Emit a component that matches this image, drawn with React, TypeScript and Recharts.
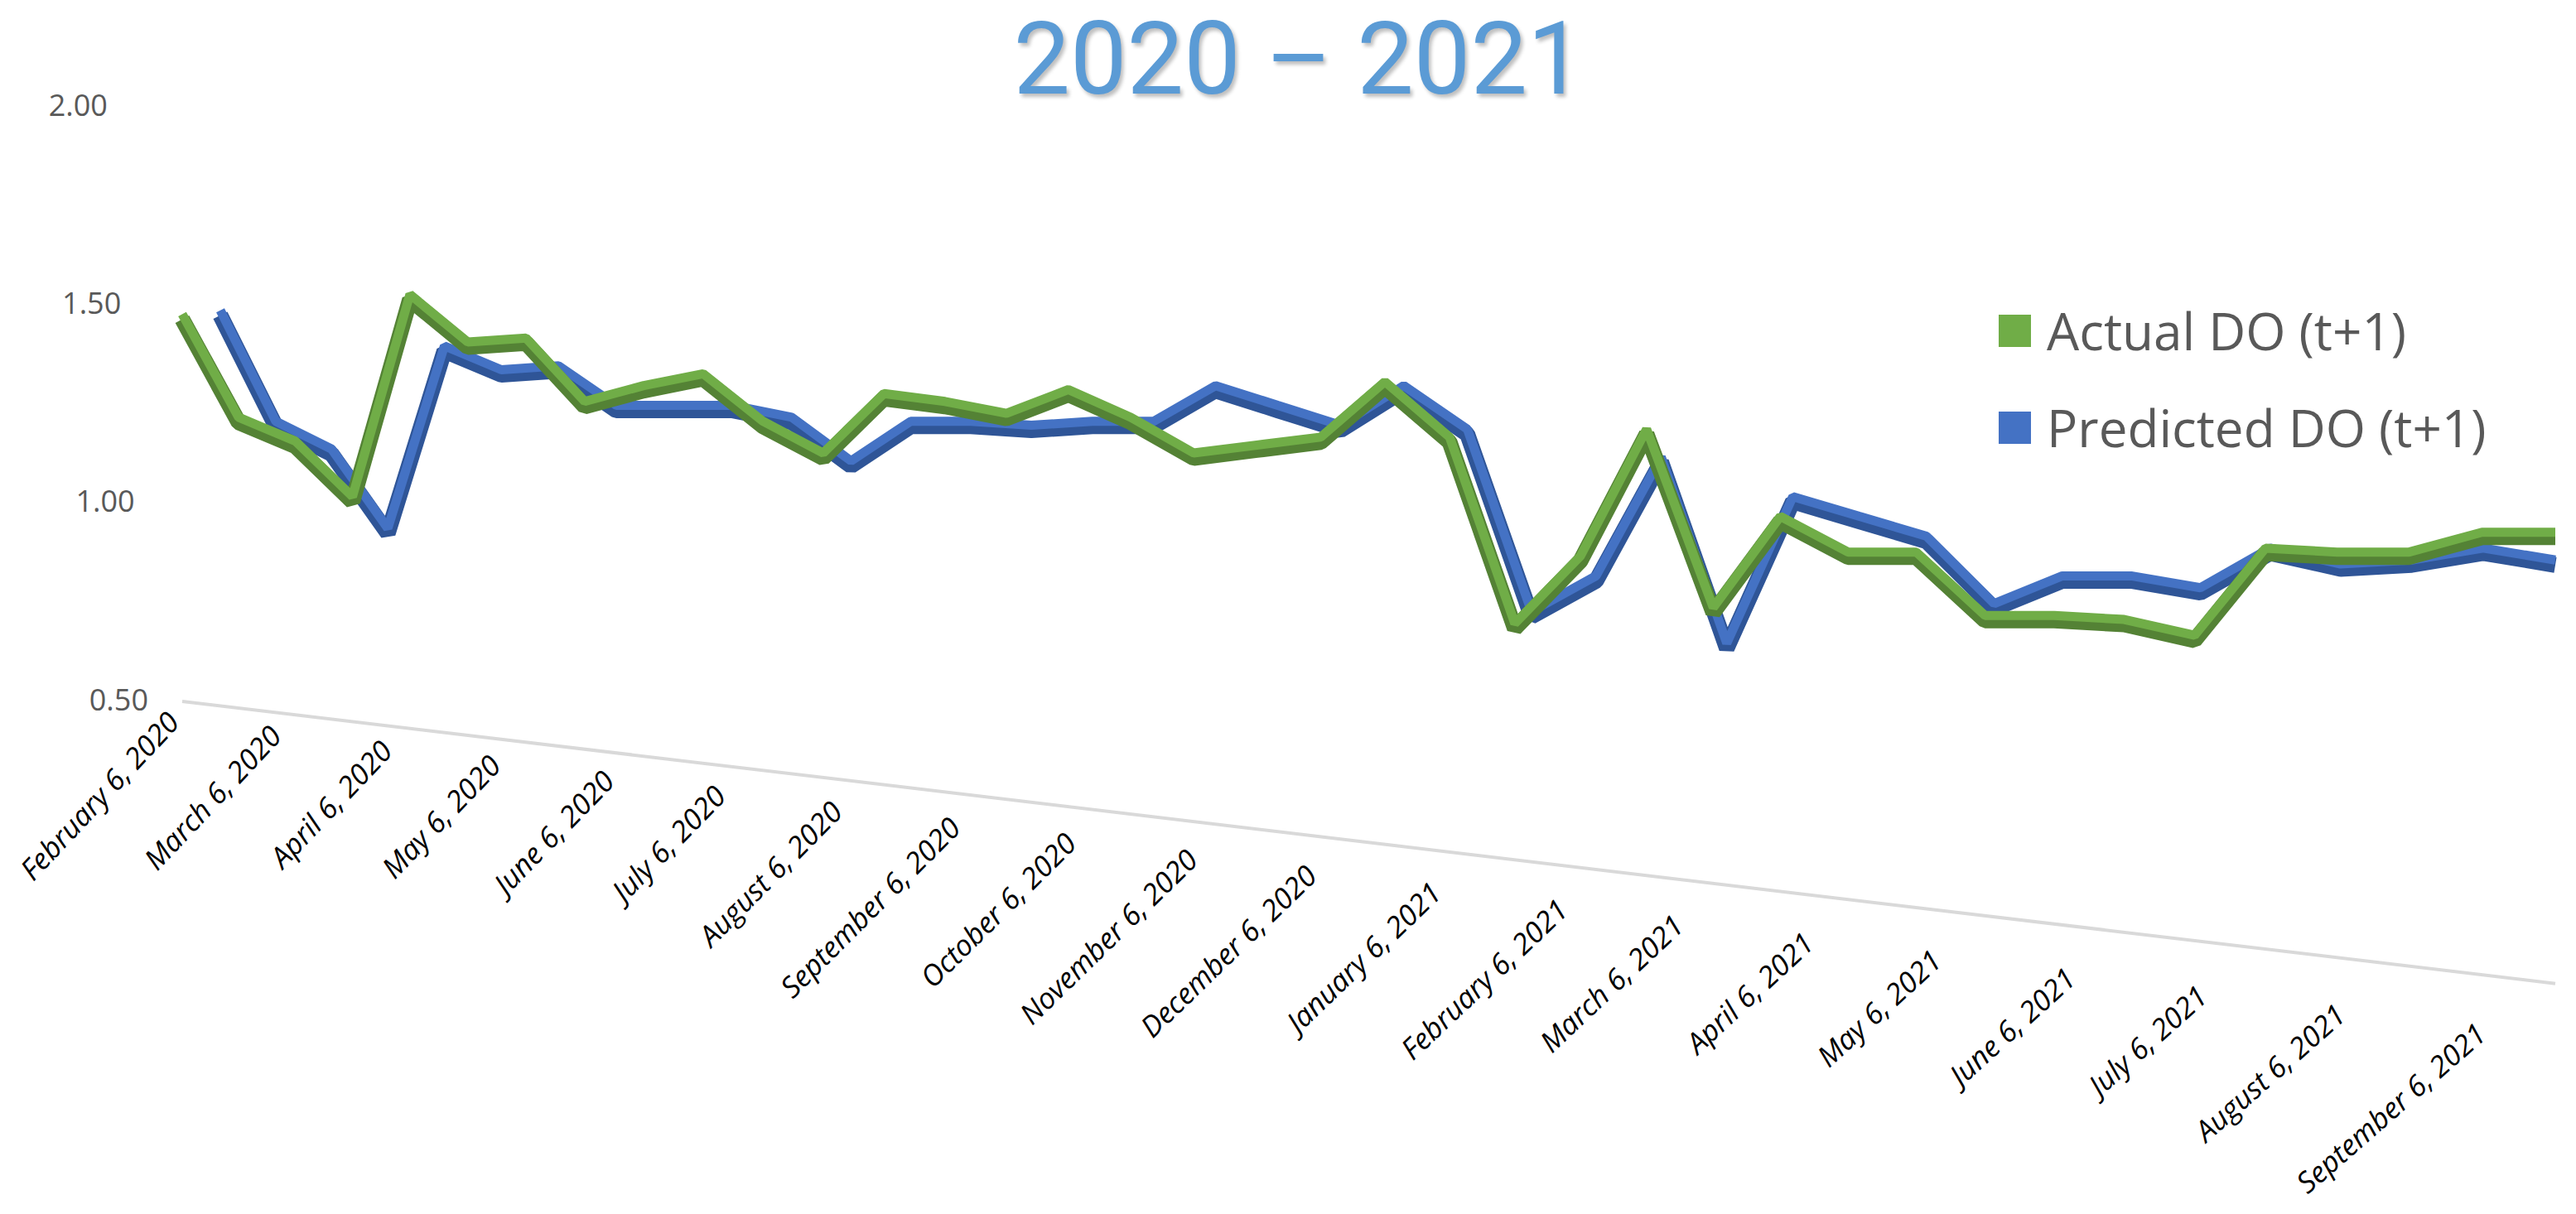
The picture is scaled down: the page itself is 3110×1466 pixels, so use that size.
import React from "react";
import { LineChart, Line, XAxis, YAxis, Legend, ReferenceLine } from "recharts";

// sample dates (16-day steps as read from the vertices)
const pointDates = [
  "2020/02/06", "2020/02/22", "2020/03/09", "2020/03/25", "2020/04/10", "2020/04/26",
  "2020/05/12", "2020/05/28", "2020/06/13", "2020/06/29", "2020/07/15", "2020/07/31",
  "2020/08/16", "2020/09/01", "2020/09/17", "2020/10/03", "2020/10/19", "2020/11/04",
  "2020/11/20", "2020/12/06", "2020/12/22", "2021/01/07", "2021/01/23", "2021/02/08",
  "2021/02/24", "2021/03/12", "2021/03/28", "2021/04/13", "2021/04/29", "2021/05/15",
  "2021/05/31", "2021/06/16", "2021/07/02", "2021/07/18", "2021/08/03", "2021/08/19",
  "2021/09/04", "2021/09/20",
];

const actual = [
  1.46, 1.2, 1.14, 1.0, 1.51, 1.39, 1.4, 1.24, 1.28, 1.31, 1.19, 1.11,
  1.26, 1.24, 1.21, 1.27, 1.2, 1.11, 1.13, 1.15, 1.29, 1.15, 0.68, 0.85,
  1.17, 0.72, 0.95, 0.86, 0.86, 0.7, 0.7, 0.69, 0.65, 0.87, 0.86, 0.86,
  0.91, 0.91,
];

const predicted = [
  1.47, 1.19, 1.12, 0.92, 1.38, 1.32, 1.33, 1.23, 1.23, 1.23, 1.2, 1.09,
  1.19, 1.19, 1.18, 1.19, 1.19, 1.28, 1.23, 1.18, 1.28, 1.17, 0.71, 0.8,
  1.1, 0.63, 1.0, 0.95, 0.9, 0.73, 0.8, 0.8, 0.77, 0.87, 0.83, 0.84,
  0.87, 0.84,
];

const tickLabels = [
  "February 6, 2020", "March 6, 2020", "April 6, 2020", "May 6, 2020",
  "June 6, 2020", "July 6, 2020", "August 6, 2020", "September 6, 2020",
  "October 6, 2020", "November 6, 2020", "December 6, 2020", "January 6, 2021",
  "February 6, 2021", "March 6, 2021", "April 6, 2021", "May 6, 2021",
  "June 6, 2021", "July 6, 2021", "August 6, 2021", "September 6, 2021",
];

const yTicks = [0.5, 1, 1.5, 2];

// front edge of the 3D floor
const floorLine = [
  { date: "2020/02/06", value: 0.496 },
  { date: "2021/09/20", value: -0.216 },
];

const series = [
  { key: "actual", name: "Actual DO (t+1)", color: "#70AD47", shade: "#548235" },
  { key: "predicted", name: "Predicted DO (t+1)", color: "#4472C4", shade: "#2F5597" },
];

// The original is an Excel 3D chart: spacing widens toward the viewer (right side).
// Mimic that by plotting "days before a far horizon" on a reversed log axis.
const DAY = 86400000;
const HORIZON_DAYS = 1906;
const toTime = (s: string) => new Date(s).getTime();
const horizon = toTime(pointDates[pointDates.length - 1]) + HORIZON_DAYS * DAY;
const toDepth = (s: string) => (horizon - toTime(s)) / DAY;

const tickXs = tickLabels.map(toDepth);
const data = pointDates.map((d, i) => ({
  x: toDepth(d),
  actual: actual[i],
  predicted: predicted[i],
}));

const FONT = "'Open Sans', sans-serif";
const PLOT_LEFT = 220;
const PLOT_RIGHT = 3085;

const DateTick = (props: any) => {
  const { x, y, payload } = props;
  const i = tickXs.findIndex((v) => Math.abs(v - payload.value) < 1e-6);
  const f = (x - PLOT_LEFT) / (PLOT_RIGHT - PLOT_LEFT);
  const angle = -47 + 6 * f;
  const ty = y - 24 + (x - PLOT_LEFT) * 0.135;
  return (
    <g transform={`translate(${x - 20},${ty}) rotate(${angle})`}>
      <text textAnchor="end" dy="0.72em" fill="#000" fontSize={35} fontStyle="italic" fontFamily={FONT}>
        {tickLabels[i]}
      </text>
    </g>
  );
};

const ValueTick = (props: any) => {
  const { x, y, payload } = props;
  return (
    <text
      x={x - 41 - (payload.value - 0.5) * 32.7}
      y={y}
      dy="0.35em"
      textAnchor="end"
      fill="#595959"
      fontSize={36}
      fontFamily={FONT}
    >
      {payload.value.toFixed(2)}
    </text>
  );
};

const renderLegend = () => (
  <div style={{ fontFamily: FONT }}>
    {series.map((s) => (
      <div key={s.key} style={{ display: "flex", alignItems: "center", height: 117 }}>
        <span style={{ width: 39, height: 39, background: s.color, marginRight: 19 }} />
        <span style={{ fontSize: 62, color: "#595959", lineHeight: "117px", whiteSpace: "nowrap" }}>{s.name}</span>
      </div>
    ))}
  </div>
);

export default function App() {
  const lineProps = { dot: false, isAnimationActive: false, strokeLinejoin: "bevel" as const, type: "linear" as const };
  return (
    <div style={{ position: "absolute", left: 0, top: 0, width: 3110, height: 1466, background: "#fff", fontFamily: FONT }}>
      <div
        style={{
          position: "absolute",
          left: 1568,
          top: 0,
          transform: "translateX(-50%)",
          whiteSpace: "nowrap",
          fontFamily: "Roboto, sans-serif",
          fontSize: 122,
          color: "#5B9BD5",
          textShadow: "3px 4px 4px rgba(0,0,0,0.25)",
        }}
      >
        2020 – 2021
      </div>
      <LineChart width={3110} height={1466} data={data} margin={{ top: 121, right: 25, bottom: 585, left: 0 }}>
        <XAxis
          xAxisId="g"
          dataKey="x"
          type="number"
          scale="log"
          reversed
          domain={["dataMin", "dataMax"]}
          ticks={tickXs}
          interval={0}
          tick={<DateTick />}
          axisLine={false}
          tickLine={false}
          tickSize={0}
          tickMargin={0}
          height={30}
        />
        <XAxis
          xAxisId="b"
          dataKey="x"
          type="number"
          scale="log"
          reversed
          domain={["dataMin", "dataMax"]}
          hide
          padding={{ left: 46, right: 0 }}
        />
        <YAxis
          yAxisId="main"
          domain={[0.5, 2]}
          ticks={yTicks}
          width={220}
          padding={{ top: 6, bottom: 6 }}
          axisLine={false}
          tickLine={false}
          tickSize={0}
          tickMargin={0}
          tick={<ValueTick />}
        />
        <YAxis yAxisId="top" domain={[0.5, 2]} hide padding={{ top: 0, bottom: 12 }} />
        <ReferenceLine
          xAxisId="g"
          yAxisId="main"
          segment={[
            { x: toDepth(floorLine[0].date), y: floorLine[0].value },
            { x: toDepth(floorLine[1].date), y: floorLine[1].value },
          ]}
          stroke="#D9D9D9"
          strokeWidth={4}
          ifOverflow="visible"
        />
        <Line {...lineProps} xAxisId="b" yAxisId="main" dataKey="predicted" stroke={series[1].shade} strokeWidth={19} legendType="none" />
        <Line {...lineProps} xAxisId="b" yAxisId="top" dataKey="predicted" stroke={series[1].color} strokeWidth={11} legendType="none" />
        <Line {...lineProps} xAxisId="g" yAxisId="main" dataKey="actual" stroke={series[0].shade} strokeWidth={19} legendType="none" />
        <Line {...lineProps} xAxisId="g" yAxisId="top" dataKey="actual" stroke={series[0].color} strokeWidth={11} legendType="none" />
        <Legend
          content={renderLegend}
          layout="horizontal"
          verticalAlign="middle"
          align="center"
          wrapperStyle={{ left: 2413, top: 341, width: 650 }}
        />
      </LineChart>
    </div>
  );
}
